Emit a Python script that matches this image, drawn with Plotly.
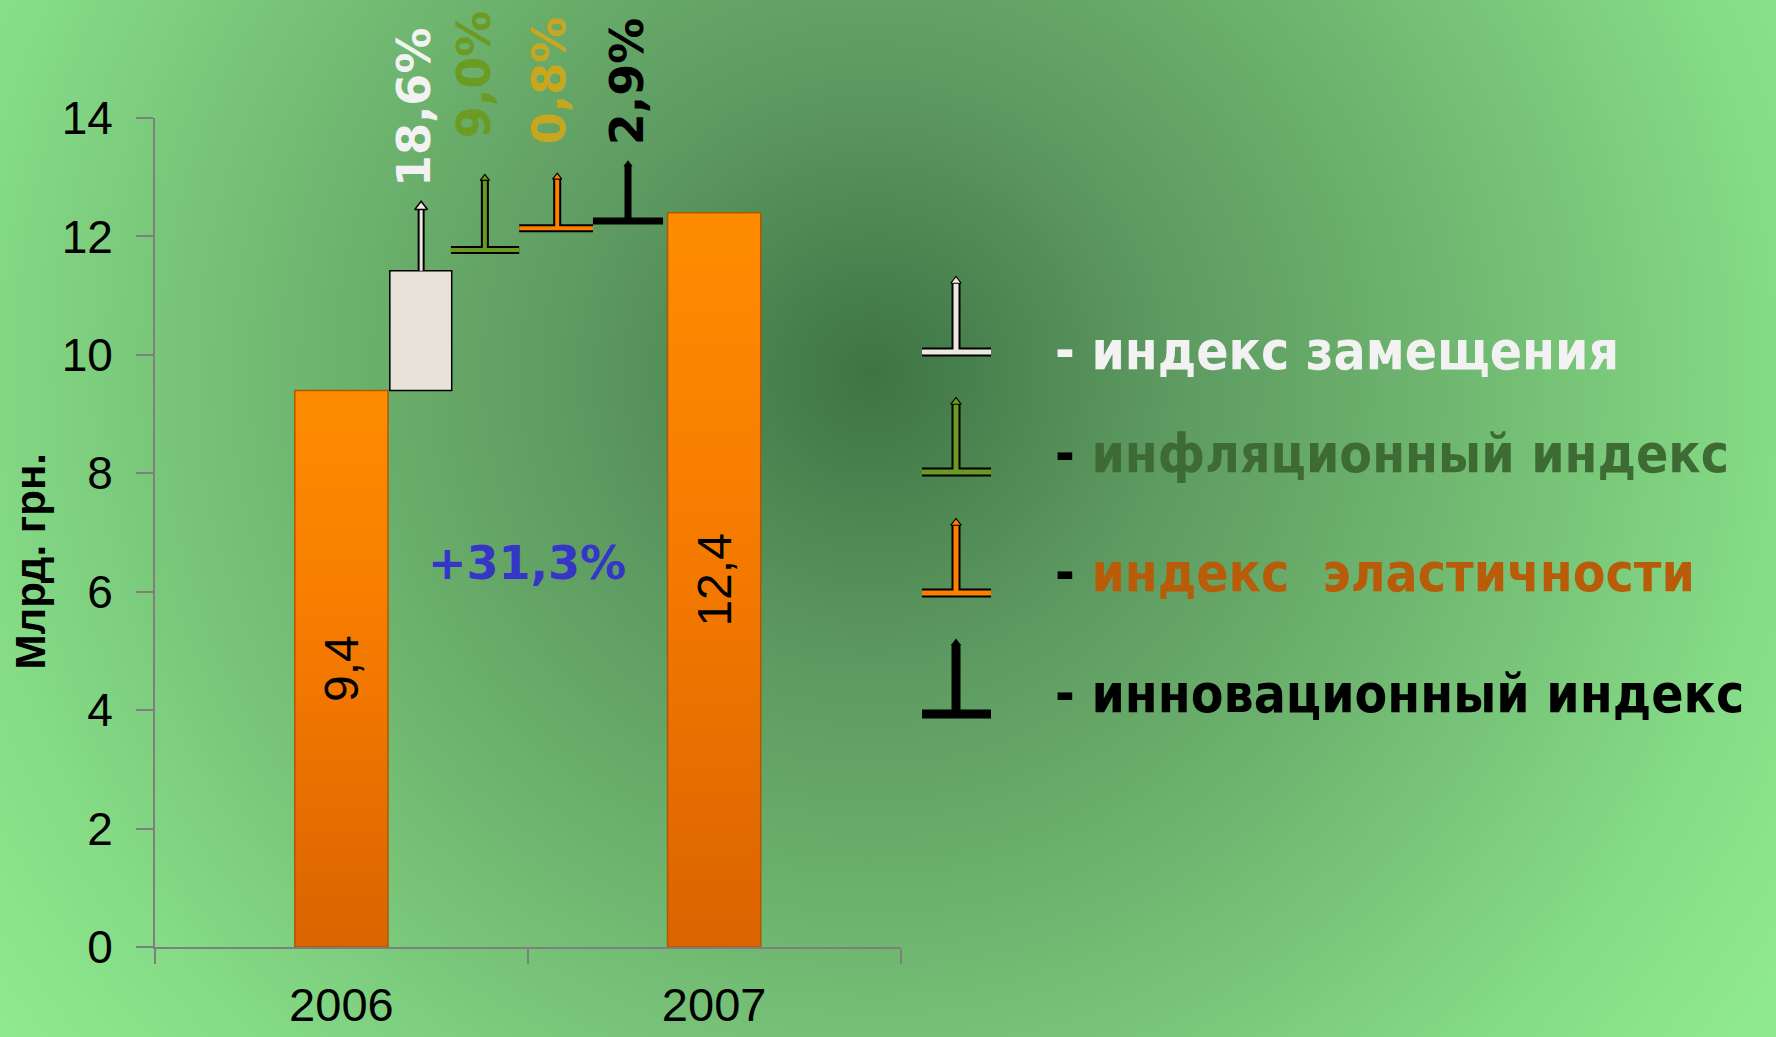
import base64
import plotly.graph_objects as go

W, H = 1776, 1037

# ---------------- data ----------------
years = ["2006", "2007"]
totals = [9.4, 12.4]
total_labels = ["9,4", "12,4"]

box_bottom = 9.4          # replacement-index box (start = 2006 level)
box_top = 11.42
step_levels = [11.42, 11.77, 12.14, 12.26]   # base level of each index marker
tip_levels = [12.55, 13.02, 13.04, 13.26]    # top of each marker stem
pct_labels = ["18,6%", "9,0%", "0,8%", "2,9%"]
growth_label = "+31,3%"
index_names = ["индекс замещения", "инфляционный индекс",
               "индекс\u00a0 эластичности", "инновационный индекс"]
y_ticks = [0, 2, 4, 6, 8, 10, 12, 14]
y_title = "Млрд. грн."

# ---------------- styles / positions ----------------
BAR_X = [0, 1]
BAR_W = 0.25
BOX_X, BOX_W = 0.213, 0.166
STEM_X = [0.214, 0.385, 0.579, 0.769]
T_SPAN = [None, (0.294, 0.477), (0.477, 0.675), (0.675, 0.863)]
IDX_COLORS = ["#ece7df", "#6a9a24", "#ff8000", "#000000"]
PCT_COLORS = ["#f2f2f2", "#6b9b22", "#c8a61e", "#000000"]
PCT_X = [0.195, 0.358, 0.559, 0.765]
PCT_Y = [12.80, 13.62, 13.52, 13.50]
LEG_TEXT_COLORS = ["#f2f2f2", "#3e6b34", "#b85c0a", "#000000"]
LEG_DASH_COLORS = ["#f2f2f2", "#000000", "#000000", "#000000"]
LEG_ROW_Y = [351, 453, 572, 693]      # px
LEG_BAR_Y = [352, 472, 593, 714]      # px
LEG_TIP_Y = [278, 399, 520, 640]      # px
LEG_X0, LEG_X1, LEG_STEM = 922, 991, 956

# plot area in pixels (margins 0, domains set by pixel)
PX_L, PX_R, PX_T, PX_B = 155, 900.5, 118, 947

fig = go.Figure()

# gradient fill of the main bars (underneath the bar outlines / labels)
for xc, v in zip(BAR_X, totals):
    fig.add_trace(go.Scatter(
        x=[xc - BAR_W / 2, xc - BAR_W / 2, xc + BAR_W / 2, xc + BAR_W / 2, xc - BAR_W / 2],
        y=[0, v, v, 0, 0], mode="lines", line=dict(width=0), fill="toself",
        fillgradient=dict(type="vertical", colorscale=[[0, "#dc6300"], [0.6, "#f77d00"], [1, "#ff8c00"]]),
        hoverinfo="skip", showlegend=False))

# main bars (outline + value labels) on an overlaying copy of the axes
fig.add_trace(go.Bar(
    x=BAR_X, y=totals, width=BAR_W, xaxis="x3", yaxis="y3",
    marker=dict(color="rgba(0,0,0,0)", line=dict(color="#b05800", width=1.5)),
    text=total_labels, textposition="inside", insidetextanchor="middle",
    textangle=-90, textfont=dict(family="Liberation Sans, Arial", size=48, color="black"),
    hoverinfo="skip", showlegend=False,
))

# replacement box
fig.add_trace(go.Bar(
    x=[BOX_X], y=[box_top - box_bottom], base=[box_bottom], width=BOX_W, xaxis="x3", yaxis="y3",
    marker=dict(color="#e8e2da", line=dict(color="black", width=1.5)),
    hoverinfo="skip", showlegend=False,
))

# arrow stem of replacement index
fig.add_trace(go.Scatter(
    x=[STEM_X[0], STEM_X[0]], y=[step_levels[0], tip_levels[0] - 0.08], xaxis="x3", yaxis="y3",
    mode="lines", line=dict(color="black", width=7), hoverinfo="skip", showlegend=False))
fig.add_trace(go.Scatter(
    x=[STEM_X[0], STEM_X[0]], y=[step_levels[0], tip_levels[0] - 0.08], xaxis="x3", yaxis="y3",
    mode="lines", line=dict(color=IDX_COLORS[0], width=3), hoverinfo="skip", showlegend=False))
fig.add_trace(go.Scatter(
    x=[STEM_X[0]], y=[tip_levels[0] - 0.05], mode="markers", xaxis="x3", yaxis="y3",
    marker=dict(symbol="triangle-up", size=11, color=IDX_COLORS[0], line=dict(color="black", width=1.5)),
    hoverinfo="skip", showlegend=False))

# T markers for other indices
for i in range(1, 4):
    x0, x1 = T_SPAN[i]
    xs = STEM_X[i]
    lv, tp = step_levels[i], tip_levels[i]
    xx = [x0, x1, None, xs, xs]
    yy = [lv, lv, None, lv, tp - 0.05]
    if i < 3:
        fig.add_trace(go.Scatter(x=xx, y=yy, mode="lines", line=dict(color="black", width=8),
                                 xaxis="x3", yaxis="y3", hoverinfo="skip", showlegend=False))
        fig.add_trace(go.Scatter(x=xx, y=yy, mode="lines", line=dict(color=IDX_COLORS[i], width=4),
                                 xaxis="x3", yaxis="y3", hoverinfo="skip", showlegend=False))
        fig.add_trace(go.Scatter(x=[xs], y=[tp - 0.04], mode="markers", xaxis="x3", yaxis="y3",
                                 marker=dict(symbol="triangle-up", size=8, color=IDX_COLORS[i],
                                             line=dict(color="black", width=1.2)),
                                 hoverinfo="skip", showlegend=False))
    else:
        fig.add_trace(go.Scatter(x=xx, y=yy, mode="lines", line=dict(color="black", width=7),
                                 xaxis="x3", yaxis="y3", hoverinfo="skip", showlegend=False))
        fig.add_trace(go.Scatter(x=[xs], y=[tp - 0.04], mode="markers", xaxis="x3", yaxis="y3",
                                 marker=dict(symbol="triangle-up", size=8, color="black"),
                                 hoverinfo="skip", showlegend=False))

# legend symbols on a full-figure pixel overlay axis
for i in range(4):
    yb, yt = LEG_BAR_Y[i], LEG_TIP_Y[i]
    xx = [LEG_X0, LEG_X1, None, LEG_STEM, LEG_STEM]
    yy = [yb, yb, None, yb, yt + 4]
    if i < 3:
        fig.add_trace(go.Scatter(x=xx, y=yy, xaxis="x2", yaxis="y2", mode="lines",
                                 line=dict(color="black", width=9), hoverinfo="skip", showlegend=False))
        fig.add_trace(go.Scatter(x=xx, y=yy, xaxis="x2", yaxis="y2", mode="lines",
                                 line=dict(color=IDX_COLORS[i], width=5), hoverinfo="skip", showlegend=False))
        fig.add_trace(go.Scatter(x=[LEG_STEM], y=[yt + 3], xaxis="x2", yaxis="y2", mode="markers",
                                 marker=dict(symbol="triangle-up", size=9, color=IDX_COLORS[i],
                                             line=dict(color="black", width=1.2)),
                                 hoverinfo="skip", showlegend=False))
    else:
        fig.add_trace(go.Scatter(x=xx, y=yy, xaxis="x2", yaxis="y2", mode="lines",
                                 line=dict(color="black", width=9), hoverinfo="skip", showlegend=False))
        fig.add_trace(go.Scatter(x=[LEG_STEM], y=[yt + 3], xaxis="x2", yaxis="y2", mode="markers",
                                 marker=dict(symbol="triangle-up", size=9, color="black"),
                                 hoverinfo="skip", showlegend=False))

annotations = []
BOLD_V = "DejaVu Sans, Verdana"
for i in range(4):
    annotations.append(dict(
        x=PCT_X[i], y=PCT_Y[i], xref="x", yref="y", xanchor="center", yanchor="bottom",
        text="<b>%s</b>" % pct_labels[i], textangle=-90, showarrow=False,
        font=dict(family=BOLD_V, size=46, color=PCT_COLORS[i])))

annotations.append(dict(
    x=0.498, y=6.49, xref="x", yref="y", text="<b>%s</b>" % growth_label, showarrow=False,
    font=dict(family=BOLD_V, size=46, color="#3535c8")))

annotations.append(dict(
    x=29.5 / W, y=1 - 562 / H, xref="paper", yref="paper", xanchor="center", yanchor="middle",
    text="<b>%s</b>" % y_title, textangle=-90, showarrow=False,
    font=dict(family="Liberation Sans, Arial", size=42, color="black")))

for i in range(4):
    txt = ('<b><span style="color:%s">-</span> %s</b>' % (LEG_DASH_COLORS[i], index_names[i]))
    annotations.append(dict(
        x=1053 / W, y=1 - LEG_ROW_Y[i] / H, xref="paper", yref="paper", xanchor="left",
        yanchor="middle", text=txt, showarrow=False,
        font=dict(family="DejaVu Sans Condensed, DejaVu Sans", size=53, color=LEG_TEXT_COLORS[i])))

svg = f'''<svg xmlns="http://www.w3.org/2000/svg" width="{W}" height="{H}" viewBox="0 0 {W} {H}" preserveAspectRatio="none">
<defs><radialGradient id="g" gradientUnits="userSpaceOnUse" cx="872" cy="374" r="1100">
<stop offset="0" stop-color="#3e7443"/>
<stop offset="0.26" stop-color="#5c9960"/>
<stop offset="0.45" stop-color="#6aae6b"/>
<stop offset="0.82" stop-color="#85db86"/>
<stop offset="1" stop-color="#90ea90"/>
</radialGradient></defs><rect x="0" y="0" width="{W}" height="{H}" fill="url(#g)"/></svg>'''
bg_src = "data:image/svg+xml;base64," + base64.b64encode(svg.encode("utf-8")).decode("ascii")

XDOM = [PX_L / W, PX_R / W]
YDOM = [1 - PX_B / H, 1 - PX_T / H]
fig.update_layout(
    width=W, height=H,
    margin=dict(l=0, r=0, t=0, b=0, autoexpand=False),
    paper_bgcolor="#7fd07f",
    plot_bgcolor="rgba(0,0,0,0)",
    showlegend=False,
    barmode="overlay",
    images=[dict(source=bg_src, xref="paper", yref="paper", x=0, y=1, sizex=1, sizey=1,
                 xanchor="left", yanchor="top", sizing="stretch", layer="below")],
    xaxis=dict(
        domain=XDOM, range=[-0.5, 1.5], anchor="y", automargin=False,
        tickmode="array", tickvals=BAR_X, ticktext=years,
        ticks="outside", ticklen=0, tickcolor="rgba(0,0,0,0)",
        minor=dict(tickmode="array", tickvals=[-0.5, 0.5, 1.5], ticks="outside",
                   ticklen=15, tickwidth=2, tickcolor="#7f7f7f"),
        showline=True, linecolor="#7f7f7f", linewidth=2,
        showgrid=False, zeroline=False, fixedrange=True,
        tickfont=dict(family="Liberation Sans, Arial", size=47, color="black"),
        ticklabelstandoff=16,
    ),
    yaxis=dict(
        domain=YDOM, range=[0, 14], anchor="x", automargin=False,
        tickmode="array", tickvals=y_ticks,
        ticks="outside", ticklen=17, tickwidth=2, tickcolor="#7f7f7f",
        showline=True, linecolor="#7f7f7f", linewidth=2,
        showgrid=False, zeroline=False, fixedrange=True,
        tickfont=dict(family="Liberation Sans, Arial", size=46, color="black"),
        ticklabelstandoff=14,
    ),
    xaxis3=dict(domain=XDOM, range=[-0.5, 1.5], anchor="y3", overlaying="x", visible=False,
                fixedrange=True, automargin=False),
    yaxis3=dict(domain=YDOM, range=[0, 14], anchor="x3", overlaying="y", visible=False,
                fixedrange=True, automargin=False),
    xaxis2=dict(domain=[0, 1], range=[0, W], anchor="y2", visible=False, fixedrange=True,
                automargin=False),
    yaxis2=dict(domain=[0, 1], range=[H, 0], anchor="x2", visible=False, fixedrange=True,
                automargin=False),
    annotations=annotations,
)

fig.write_html("out.html", config={"displayModeBar": False},
               post_script="document.body.style.margin='0';")
